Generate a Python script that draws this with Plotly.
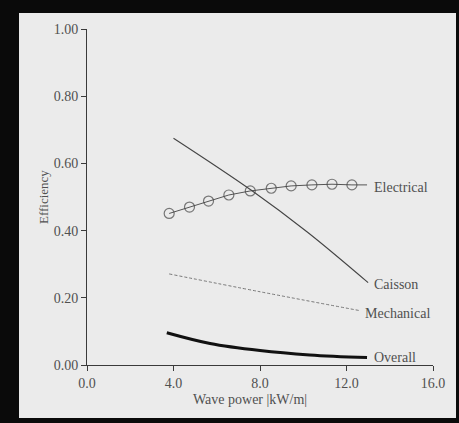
import plotly.graph_objects as go

# Data
elec_x = [3.8, 4.74, 5.62, 6.56, 7.55, 8.52, 9.44, 10.4, 11.33, 12.25, 12.95]
elec_y = [0.451, 0.470, 0.488, 0.506, 0.518, 0.526, 0.533, 0.536, 0.538, 0.536, 0.536]
elec_marker = [1, 1, 1, 1, 1, 1, 1, 1, 1, 1, 0]

caisson_x = [4.0, 7.6, 10.2, 13.0]
caisson_y = [0.675, 0.52, 0.395, 0.245]

mech_x = [3.8, 8.0, 12.6]
mech_y = [0.271, 0.218, 0.162]

overall_x = [3.69, 5.69, 8.0, 10.3, 12.95]
overall_y = [0.096, 0.064, 0.043, 0.030, 0.022]

labels = ["Electrical", "Caisson", "Mechanical", "Overall"]
label_x = [13.2, 13.2, 12.75, 13.2]
label_y = [0.528, 0.24, 0.154, 0.023]

x_ticks = [0, 4, 8, 12, 16]
y_ticks = [0, 0.2, 0.4, 0.6, 0.8, 1.0]

FONT = "Liberation Serif"
TXT = "#505050"
LINE = "#3a3a3a"

fig = go.Figure()
fig.add_trace(go.Scatter(
    x=elec_x, y=elec_y, mode="lines+markers",
    line=dict(color="#555555", width=1),
    marker=dict(symbol="circle-open", size=[10 * m for m in elec_marker],
                color="#444444", line=dict(width=1.2)),
    showlegend=False))
fig.add_trace(go.Scatter(
    x=caisson_x, y=caisson_y, mode="lines", line_shape="spline",
    line=dict(color="#444444", width=1.1), showlegend=False))
fig.add_trace(go.Scatter(
    x=mech_x, y=mech_y, mode="lines", line_shape="spline",
    line=dict(color="#777777", width=1, dash="3px,2px"), showlegend=False))
fig.add_trace(go.Scatter(
    x=overall_x, y=overall_y, mode="lines", line_shape="spline",
    line=dict(color="#111111", width=3), showlegend=False))

annotations = []
for t, lx, ly in zip(labels, label_x, label_y):
    annotations.append(dict(x=lx, y=ly, xref="x", yref="y", text=t,
                            showarrow=False, xanchor="left", yanchor="middle",
                            font=dict(family=FONT, size=14, color=TXT)))
annotations.append(dict(x=0.471, y=-0.104, xref="paper", yref="paper",
                        text="Wave power |kW/m|", showarrow=False,
                        xanchor="center", yanchor="middle",
                        font=dict(family=FONT, size=14, color=TXT)))
annotations.append(dict(x=-0.127, y=0.5, xref="paper", yref="paper",
                        text="Efficiency", showarrow=False, textangle=-90,
                        xanchor="center", yanchor="middle",
                        font=dict(family=FONT, size=13, color=TXT)))

BLACK = "#0a0a0a"
border = [
    (-0.5, -0.1965, -0.5, 1.5),   # left
    (1.0665, 1.09, -0.5, 1.5),    # right (thin)
    (-0.5, 1.5, 1.0476, 1.5),     # top
    (-0.5, 1.5, -0.5, -0.1577),   # bottom
]
shapes = [dict(type="rect", xref="paper", yref="paper",
               x0=a, x1=b, y0=c, y1=d, fillcolor=BLACK,
               line=dict(width=0), layer="below") for a, b, c, d in border]

fig.update_layout(
    width=459, height=423,
    margin=dict(l=87, r=26, t=29, b=58),
    paper_bgcolor="#ebebeb",
    plot_bgcolor="rgba(0,0,0,0)",
    font=dict(family=FONT, size=14, color=TXT),
    annotations=annotations,
    shapes=shapes,
    xaxis=dict(range=[0, 16], tickvals=x_ticks, tickformat=".1f",
               showgrid=False, zeroline=False, showline=True,
               linecolor=LINE, linewidth=1, ticks="outside", ticklen=5,
               tickcolor=LINE, tickfont=dict(family=FONT, size=14, color=TXT)),
    yaxis=dict(range=[0, 1], tickvals=y_ticks, tickformat=".2f",
               showgrid=False, zeroline=False, showline=True,
               linecolor=LINE, linewidth=1, ticks="outside", ticklen=5,
               tickcolor=LINE, tickfont=dict(family=FONT, size=14, color=TXT)),
)

fig.write_html("out.html", config={"displayModeBar": False},
               post_script="document.body.style.margin='0';"
                           "document.body.style.background='#000';")
